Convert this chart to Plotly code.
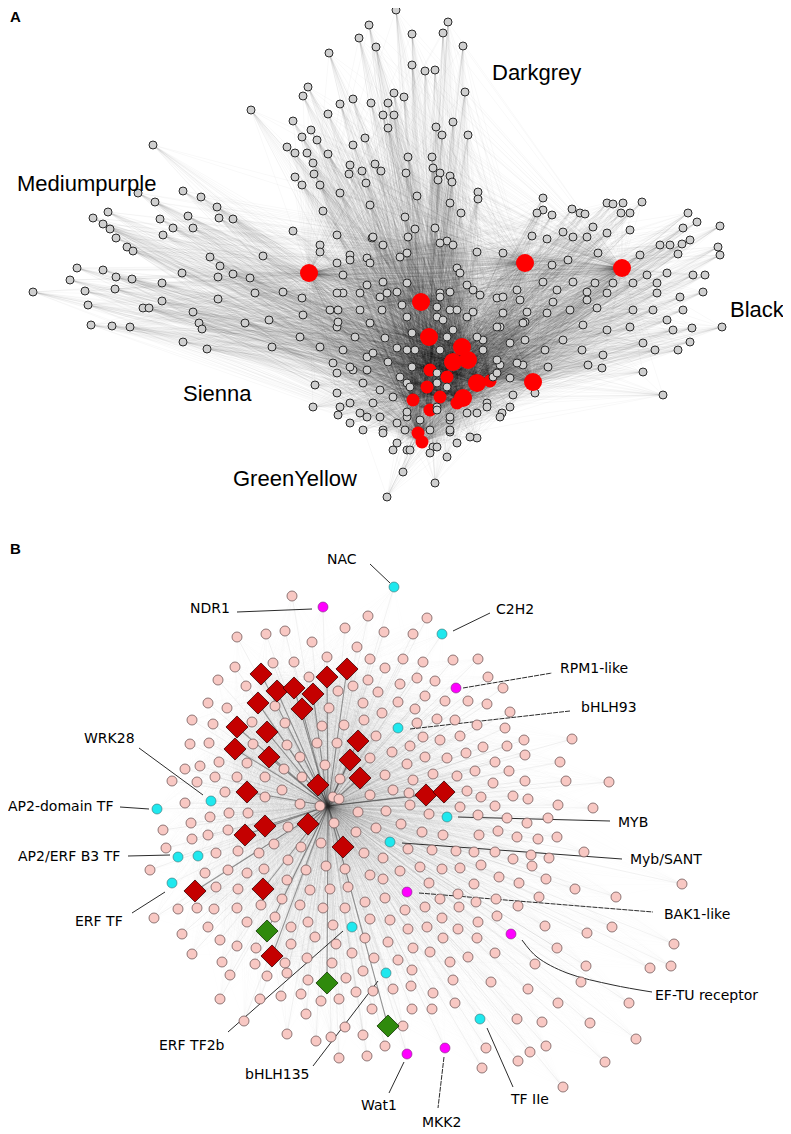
import plotly.graph_objects as go

W, H = 791, 1134
PAGE_OFFSET = 8  # the page body margin shifts the plot; coordinates below are page pixels

# ---------------- panel A : module network (page pixel coordinates) ----------------
a_gray_xy = [
    (369,25),(359,38),(376,47),(329,53),(396,10),(308,87),(303,96),(394,93),(251,110),(353,99),(340,104),
    (328,114),(371,103),(388,103),(383,115),(394,115),(293,121),(311,130),(388,128),(153,145),(302,137),
    (317,140),(287,147),(295,153),(307,153),(328,154),(353,145),(365,138),(313,163),(350,165),(375,164),
    (381,171),(362,171),(295,177),(314,174),(349,174),(302,185),(320,185),(366,183),(340,193),(183,191),
    (201,197),(217,207),(155,202),(138,193),(108,212),(93,218),(103,224),(110,229),(160,219),(173,228),
    (188,216),(193,228),(219,218),(233,219),(163,235),(116,238),(127,247),(323,211),(370,205),(293,231),
    (320,245),(372,238),(383,245),
    (448,22),(443,33),(412,34),(463,46),(412,65),(425,71),(435,70),(404,97),(465,92),(453,122),(436,127),
    (442,135),(468,135),(408,157),(432,157),(406,173),(433,168),(440,173),(450,176),(438,180),(452,182),
    (478,192),(478,199),(417,196),(450,203),(461,213),(405,217),(415,229),(435,228),(447,241),(543,198),
    (543,210),(537,213),(552,215),(572,209),(580,213),(585,214),(607,203),(613,204),(623,203),(642,202),
    (630,213),(621,213),(593,227),(563,232),(587,237),(607,233),(630,230),(532,236),(547,239),(573,237),
    (688,213),(697,222),(720,226),(683,228),(660,245),(670,245),(682,244),(718,247),(690,240),
    (133,251),(210,257),(220,266),(263,256),(182,273),(218,277),(250,278),(233,274),(77,268),(103,270),
    (116,277),(70,280),(132,279),(162,283),(33,292),(85,291),(115,289),(162,301),(143,308),(149,308),
    (88,305),(193,312),(218,299),(255,293),(283,292),(302,298),(91,325),(112,326),(130,327),(183,342),
    (199,323),(202,329),(207,349),(245,323),(269,320),(303,315),(272,347),(300,337),(315,385),(313,407),
    (320,347),(337,327),(343,293),(320,252),(337,263),(350,255),(367,258),(387,293),(387,497),(330,310),
    (333,363),(353,370),(367,357),(340,407),(350,423),(367,417),(383,430),(393,450),
    (552,265),(568,260),(598,253),(640,255),(678,254),(720,255),(647,275),(667,273),(693,275),(705,275),
    (573,282),(595,283),(613,283),(633,283),(657,283),(543,282),(517,290),(557,290),(497,298),(480,295),
    (587,292),(607,293),(657,293),(680,297),(703,292),(553,302),(587,300),(633,310),(653,310),(683,310),
    (547,313),(570,310),(597,308),(527,312),(473,312),(450,310),(440,293),(467,285),(457,268),(500,327),
    (525,322),(583,325),(607,330),(630,327),(673,330),(692,328),(722,327),(667,320),(483,340),(525,340),
    (545,350),(563,340),(582,350),(603,355),(643,343),(655,350),(678,350),(690,342),(500,365),(523,365),
    (548,367),(588,365),(602,368),(643,372),(493,377),(510,378),(513,395),(535,393),(487,403),(502,413),
    (477,413),(450,420),(450,432),(477,438),(433,447),(403,472),(435,483),(663,395),(400,257),(407,283),
    (407,317),(407,350),(407,383),(407,417),(407,450),(437,317),(437,383),(437,407),
    (337,235),(373,237),(408,237),(440,243),(453,245),(477,252),(503,253),(407,253),(350,260),(370,263),
    (460,273),(383,282),(367,285),(343,275),(337,293),(360,293),(380,297),(397,292),(440,297),(450,292),
    (473,290),(503,297),(520,300),(338,310),(360,310),(382,310),(402,305),(437,307),(457,310),(467,317),
    (503,313),(523,323),(338,322),(370,323),(443,320),(453,330),(497,327),(355,337),(385,338),(412,333),
    (447,337),(477,337),(510,343),(343,350),(373,353),(397,348),(415,350),(440,350),(483,350),(497,360),
    (350,367),(367,370),(388,362),(412,367),(337,373),(400,377),(437,373),(447,387),(497,373),(517,363),
    (363,383),(380,390),(410,387),(337,393),(350,403),(373,403),(393,397),(407,412),(437,410),(450,417),
    (467,413),(487,407),(510,407),(500,417),(338,415),(360,413),(380,417),(397,423),(420,420),(363,430),
    (383,433),(405,430),(430,430),(450,430),(470,437),(397,443),(437,447),(457,443),(410,450),(430,453),
    (447,457),
]
a_red_big_xy = [(309,273),(525,263),(421,302),(429,337),(462,347),(453,362),(468,360),(477,383),
                (533,382),(463,398),(622,268)]
a_red_small_xy = [(490,381),(422,442),(430,370),(427,387),(413,400),(430,410),(440,397),(457,403),
                  (418,433),(447,377)]
a_modules = ["Darkgrey", "Mediumpurple", "Black", "Sienna", "GreenYellow"]
a_module_pos = [(536,72), (86,183), (787,309), (217,393), (295,478)]
a_module_anchor = ["center", "center", "right", "center", "center"]

# ---------------- panel B : hub sub-network ----------------
b_hub = (328, 806)
b_pink_xy = [
    (292,596),(368,616),(427,618),(237,637),(266,634),(285,631),(345,628),(384,632),(413,634),(312,642),
    (357,647),(327,657),(370,659),(403,659),(423,662),(235,667),(273,663),(294,662),(385,668),(218,680),
    (246,686),(309,677),(368,680),(400,684),(417,678),(338,691),(353,686),(378,692),(425,696),(208,703),
    (227,708),(275,706),(329,708),(363,703),(398,702),(415,709),(192,720),(213,724),(252,722),(285,723),
    (322,726),(344,725),(364,720),(382,713),(417,723),(190,744),(209,743),(253,744),(287,745),(317,743),
    (337,743),(376,736),(410,746),(423,737),(200,766),(219,762),(247,763),(284,769),(300,757),(325,765),
    (370,758),(392,752),(407,764),(425,757),(185,769),(215,777),(237,777),(265,777),(302,777),(340,779),
    (385,775),(413,780),(172,781),(197,782),(225,792),(265,797),(282,790),(333,797),(370,795),(393,790),
    (409,793),
    (478,659),(453,660),(488,677),(435,681),(503,688),(445,701),(468,701),(487,704),(510,712),(437,719),
    (455,720),(477,725),(505,728),(572,739),(440,740),(460,736),(483,747),(507,746),(524,740),(447,758),
    (466,753),(495,762),(525,755),(560,762),(433,774),(457,776),(475,771),(493,783),(509,771),(525,781),
    (566,781),(609,782),(467,791),(481,797),(513,796),(528,799),(558,805),(593,808),(495,806),(460,807),
    (429,814),(410,805),(478,815),(507,818),(527,823),(548,818),(401,824),(422,832),(443,835),(479,835),
    (498,831),(517,837),(557,837),
    (538,839),(408,849),(432,850),(456,851),(474,852),(495,852),(513,859),(531,855),(549,858),(584,852),
    (400,871),(420,867),(442,869),(460,868),(481,865),(499,877),(532,866),(546,879),(383,879),(429,883),
    (474,884),(519,883),(575,889),(616,897),(682,884),(385,898),(440,899),(458,894),(476,902),(496,899),
    (539,897),(405,910),(425,907),(459,907),(518,906),(390,920),(442,918),(478,922),(497,916),(545,926),
    (587,933),(612,927),(674,944),(388,942),(408,929),(427,927),(458,929),(477,938),(413,948),(443,938),
    (495,953),(557,948),(430,952),(468,957),(398,960),(450,962),(412,970),(535,964),(586,966),(650,968),
    (671,966),(453,980),(491,982),(393,989),(411,986),(433,993),(528,989),(581,982),(455,1003),(412,1009),
    (432,1009),(558,1003),(629,1003),(403,1026),(517,1019),(542,1022),(590,1023),(636,1039),(385,1046),
    (486,1048),(530,1052),(546,1046),(518,1061),(605,1062),(482,1068),(563,1087),
    (300,804),(320,806),(339,799),(358,812),(386,811),(185,803),(210,817),(229,813),(248,813),(191,823),
    (163,830),(208,835),(228,830),(288,827),(334,823),(356,832),(376,828),(192,839),(216,853),(238,851),
    (259,853),(274,844),(301,847),(321,843),(364,853),(166,848),(150,870),(205,873),(228,870),(247,873),
    (264,869),(288,860),(306,870),(326,866),(345,869),(383,858),(370,875),(216,887),(238,889),(287,880),
    (310,890),(330,889),(348,887),(365,902),(178,909),(197,908),(214,909),(237,908),(261,905),(282,899),
    (300,905),(323,908),(345,908),(154,918),(208,927),(247,922),(275,917),(291,927),(308,922),(333,925),
    (370,919),(182,934),(220,940),(237,946),(256,948),(291,944),(315,937),(336,944),(365,938),(192,954),
    (222,962),(255,964),(285,963),(307,958),(352,953),(332,963),(374,958),(230,975),(267,976),(287,973),
    (308,980),(346,978),(363,971),(220,999),(260,999),(281,996),(301,994),(321,1001),(339,999),(356,992),
    (373,991),(306,1014),(345,1027),(372,1009),(244,1021),(287,1034),(316,1041),(331,1037),(363,1035),
    (339,1058),(367,1056),
]
b_red_xy = [(261,674),(277,691),(294,688),(313,694),(327,677),(347,669),(258,703),(302,709),(237,727),
            (267,732),(235,749),(269,757),(358,741),(350,760),(360,778),(318,785),(247,792),(426,795),
            (444,792),(265,826),(245,835),(308,824),(343,847),(195,891),(263,889),(272,956)]
b_green_xy = [(267,931),(327,983),(388,1026)]
b_tf_xy = [(394,587),(442,634),(398,728),(211,801),(157,809),(178,857),(198,856),(172,883),
           (447,817),(390,842),(352,927),(386,973),(480,1019)]
b_immune_xy = [(323,607),(456,688),(407,892),(511,934),(407,1054),(445,1048)]

# label text, text anchor, x-anchor, leader line start/end, dashed leader
b_labels = ["NAC", "NDR1", "C2H2", "RPM1-like", "bHLH93", "WRK28", "AP2-domain TF", "AP2/ERF B3 TF",
            "ERF TF", "MYB", "Myb/SANT", "BAK1-like", "EF-TU receptor", "ERF TF2b", "bHLH135",
            "Wat1", "MKK2", "TF IIe"]
b_label_pos = [(342,559),(232,608),(494,609),(558,668),(579,707),(82,738),(115,806),(122,856),
               (73,921),(616,822),(628,859),(662,914),(653,995),(157,1045),(243,1074),
               (359,1105),(420,1122),(508,1099)]
b_label_anchor = ["center","right","left","left","left","left","right","right",
                  "left","left","left","left","left","left","left","left","left","left"]
b_leader = [((370,564),(390,583)), ((237,612),(312,609)), ((453,631),(490,613)),
            ((463,688),(552,673)), ((410,729),(570,711)), ((139,748),(203,795)),
            ((120,807),(149,809)), ((128,856),(170,855)), ((132,913),(165,892)),
            ((458,817),(610,821)), ((402,843),(622,859)), ((419,893),(653,912)),
            None, ((343,931),(228,1032)), ((378,981),(313,1066)),
            ((404,1062),(389,1093)), ((444,1057),(438,1108)), ((487,1028),(513,1087))]
b_leader_dashed = ["RPM1-like", "bHLH93", "BAK1-like", "MKK2"]
b_efturve = [(522,940),(537,957),(567,973),(613,985),(652,992)]


def xs(pts):
    return [p[0] for p in pts]


def ys(pts):
    return [p[1] for p in pts]


def star(center, pts, color, width):
    ex, ey = [], []
    for x, y in pts:
        ex += [center[0], x, None]
        ey += [center[1], y, None]
    return go.Scatter(x=ex, y=ey, mode="lines", line=dict(color=color, width=width),
                      hoverinfo="skip", showlegend=False)


fig = go.Figure()

# panel A edges: every gray node linked to the red hub genes
for hub in a_red_big_xy + a_red_small_xy:
    fig.add_trace(star(hub, a_gray_xy, "rgba(0,0,0,0.055)", 0.55))

fig.add_trace(go.Scatter(x=xs(a_red_small_xy), y=ys(a_red_small_xy), mode="markers",
                         marker=dict(size=13, color="#ff0000", line=dict(width=0)),
                         hoverinfo="skip", showlegend=False))
fig.add_trace(go.Scatter(x=xs(a_gray_xy), y=ys(a_gray_xy), mode="markers",
                         marker=dict(size=8, color="#cfcfcf", line=dict(width=1, color="#2a2a2a")),
                         hoverinfo="skip", showlegend=False))
fig.add_trace(go.Scatter(x=xs(a_red_big_xy), y=ys(a_red_big_xy), mode="markers",
                         marker=dict(size=18, color="#ff0000", line=dict(width=0)),
                         hoverinfo="skip", showlegend=False))

# panel B edges
b_all = b_pink_xy + b_tf_xy + b_immune_xy + b_green_xy
for hub in b_red_xy:
    fig.add_trace(star(hub, b_all, "rgba(0,0,0,0.018)", 0.5))
for i in range(0, len(b_all), 14):
    fig.add_trace(star(b_hub, b_all[i:i + 14], "rgba(40,40,40,0.11)", 0.6))
fig.add_trace(star(b_hub, b_red_xy + b_green_xy, "rgba(40,40,40,0.45)", 1.1))

# leader lines
solid_x, solid_y, dash_x, dash_y = [], [], [], []
for name, seg in zip(b_labels, b_leader):
    if seg is None:
        continue
    if name in b_leader_dashed:
        dash_x += [seg[0][0], seg[1][0], None]
        dash_y += [seg[0][1], seg[1][1], None]
    else:
        solid_x += [seg[0][0], seg[1][0], None]
        solid_y += [seg[0][1], seg[1][1], None]
fig.add_trace(go.Scatter(x=solid_x, y=solid_y, mode="lines", line=dict(color="#2b2b2b", width=1),
                         hoverinfo="skip", showlegend=False))
fig.add_trace(go.Scatter(x=dash_x, y=dash_y, mode="lines",
                         line=dict(color="#2b2b2b", width=1, dash="5px,1px"),
                         hoverinfo="skip", showlegend=False))
fig.add_trace(go.Scatter(x=xs(b_efturve), y=ys(b_efturve), mode="lines",
                         line=dict(color="#2b2b2b", width=1, shape="spline"),
                         hoverinfo="skip", showlegend=False))

# panel B nodes
fig.add_trace(go.Scatter(x=xs(b_pink_xy), y=ys(b_pink_xy), mode="markers",
                         marker=dict(size=10, color="#f8c8c3", line=dict(width=0.8, color="#735a5a")),
                         hoverinfo="skip", showlegend=False))
fig.add_trace(go.Scatter(x=xs(b_red_xy), y=ys(b_red_xy), mode="markers",
                         marker=dict(symbol="diamond", size=17, color="#c40000",
                                     line=dict(width=0.8, color="#3a0000")),
                         hoverinfo="skip", showlegend=False))
fig.add_trace(go.Scatter(x=xs(b_green_xy), y=ys(b_green_xy), mode="markers",
                         marker=dict(symbol="diamond", size=17, color="#2f8a0c",
                                     line=dict(width=0.8, color="#0f3300")),
                         hoverinfo="skip", showlegend=False))
fig.add_trace(go.Scatter(x=xs(b_tf_xy), y=ys(b_tf_xy), mode="markers",
                         marker=dict(size=10, color="#1fe8ee", line=dict(width=0.6, color="#3a6e70")),
                         hoverinfo="skip", showlegend=False))
fig.add_trace(go.Scatter(x=xs(b_immune_xy), y=ys(b_immune_xy), mode="markers",
                         marker=dict(size=10, color="#ff00ff", line=dict(width=0.6, color="#7a2a7a")),
                         hoverinfo="skip", showlegend=False))

annotations = []
for name, (x, y), anc in zip(a_modules, a_module_pos, a_module_anchor):
    annotations.append(dict(x=x, y=y, text=name, showarrow=False, xanchor=anc, yanchor="middle",
                            font=dict(family="Liberation Sans, Arial", size=22, color="black")))
for name, (x, y), anc in zip(b_labels, b_label_pos, b_label_anchor):
    annotations.append(dict(x=x, y=y, text=name, showarrow=False, xanchor=anc, yanchor="middle",
                            font=dict(family="DejaVu Sans", size=14, color="black")))
for name, (x, y) in zip(["A", "B"], [(15,16), (15,548)]):
    annotations.append(dict(x=x, y=y, text="<b>" + name + "</b>", showarrow=False,
                            font=dict(family="Liberation Sans, Arial", size=15, color="black")))

fig.update_layout(
    width=W, height=H,
    margin=dict(l=0, r=0, t=0, b=0),
    paper_bgcolor="white", plot_bgcolor="white",
    xaxis=dict(range=[PAGE_OFFSET, W + PAGE_OFFSET], visible=False, fixedrange=True),
    yaxis=dict(range=[H + PAGE_OFFSET, PAGE_OFFSET], visible=False, fixedrange=True),
    annotations=annotations,
    showlegend=False,
)

fig.write_html("out.html")
